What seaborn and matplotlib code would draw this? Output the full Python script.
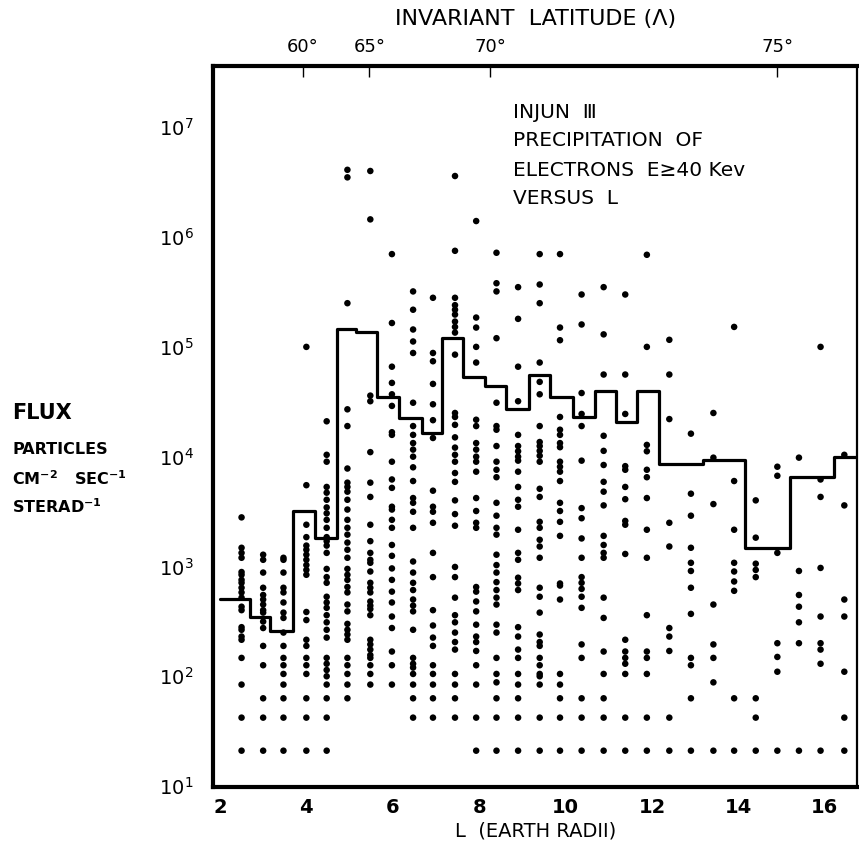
import numpy as np
import pandas as pd
import matplotlib
matplotlib.use("Agg")
import matplotlib.pyplot as plt
import seaborn as sns

sns.set_style("white")
plt.rcParams["font.family"] = ["DejaVu Sans"]
plt.rcParams["mathtext.default"] = "regular"
plt.rcParams["text.color"] = "black"
plt.rcParams["axes.labelcolor"] = "black"
plt.rcParams["xtick.color"] = "black"
plt.rcParams["ytick.color"] = "black"

# ---- data -----------------------------------------------------------------
# L position of each column of measurements
col_L = [2.5, 3.0, 3.47, 4.0, 4.47, 4.95, 5.48, 5.98, 6.47, 6.93, 7.44, 7.93,
         8.40, 8.90, 9.40, 9.87, 10.37, 10.88, 11.38, 11.88, 12.40, 12.90,
         13.42, 13.90, 14.40, 14.90, 15.40, 15.90, 16.45]

c25 = [2800, 1480, 1330, 1200, 890, 840, 755, 710, 640, 580, 520, 430, 400, 280, 265, 230, 215, 147, 84, 42, 21]
c30 = [1280, 1150, 880, 640, 550, 500, 450, 400, 380, 315, 275, 189, 126, 63, 42, 21]
c35 = [1200, 1150, 880, 640, 580, 470, 380, 340, 250, 189, 147, 126, 105, 84, 63, 42, 21]
c40 = [100000, 5500, 2400, 1850, 1550, 1420, 1280, 1150, 1030, 930, 840, 385, 325, 215, 189, 147, 126, 105, 63, 42, 21]
c45 = [21000, 10400, 9000, 5300, 4700, 4050, 3450, 3050, 2660, 2250, 1850, 1700, 1550, 1330, 950, 800, 710, 530, 470,
       420, 360, 310, 265, 225, 147, 130, 114, 100, 84, 63, 42, 21]
c50 = [4100000, 3500000, 250000, 27000, 19000, 7800, 5800, 5300, 4800, 4050, 3300, 2660, 2250, 1950, 1650, 1420, 1200,
       950, 840, 755, 650, 580, 450, 390, 300, 265, 240, 215, 147, 126, 105, 84, 63]
c55 = [4000000, 1450000, 36000, 32000, 11000, 5800, 4300, 2400, 1700, 1330, 1150, 1080, 900, 710, 640, 580, 480, 440,
       410, 360, 215, 195, 175, 156, 147, 126, 105, 84]
c60 = [700000, 165000, 66000, 47000, 37000, 29000, 16700, 15800, 9000, 6200, 5200, 3500, 3300, 2660, 2250, 1570, 1250,
       960, 755, 590, 470, 350, 275, 168, 126, 84]
c65 = [320000, 218000, 144000, 112000, 88000, 31000, 19000, 15800, 13300, 11600, 10000, 8000, 6000, 4200, 3800, 3150,
       2250, 1110, 880, 710, 610, 500, 440, 390, 265, 147, 130, 120, 105, 84, 63, 42]
c70 = [280000, 88000, 74000, 46000, 30000, 21500, 14800, 4900, 3500, 3150, 2500, 1330, 800, 400, 290, 225, 189, 126,
       105, 84, 63, 42]
c75 = [3600000, 750000, 280000, 240000, 218000, 197000, 170000, 152000, 135000, 85000, 25000, 23000, 19500, 15000,
       12100, 10400, 9000, 7100, 5900, 4000, 3000, 2350, 990, 800, 520, 360, 310, 250, 205, 175, 105, 84, 63, 42]
c80 = [1400000, 185000, 150000, 100000, 72000, 21700, 19000, 13300, 11600, 10000, 9000, 7300, 4200, 3200, 2500, 2250,
       650, 590, 480, 390, 295, 230, 205, 170, 126, 84, 42, 21]
c85 = [720000, 380000, 320000, 120000, 31000, 19000, 17600, 12500, 9000, 7600, 6500, 3800, 2900, 2250, 1950, 1280,
       1030, 880, 720, 610, 520, 450, 295, 250, 147, 105, 88, 63, 42, 21]
c90 = [350000, 180000, 66000, 32000, 15800, 12500, 11200, 10000, 9200, 7300, 5300, 4050, 3500, 2160, 1330, 1150, 790,
       700, 610, 280, 230, 175, 147, 105, 84, 63, 42, 21]
c95 = [700000, 370000, 250000, 72000, 48000, 37000, 19000, 13600, 12500, 11300, 10200, 9000, 5100, 4300, 2550, 2250,
       1750, 1520, 1200, 640, 530, 380, 240, 205, 189, 147, 126, 105, 100, 84, 42, 21]
c100 = [700000, 150000, 115000, 23000, 17600, 15800, 13300, 12200, 9000, 8100, 7300, 6000, 3800, 3200, 2550, 1900,
        700, 670, 500, 105, 84, 63, 42, 21]
c105 = [300000, 160000, 38000, 24500, 19000, 9200, 3400, 2750, 1800, 1200, 800, 710, 625, 530, 420, 195, 147, 63, 42, 21]
c110 = [350000, 130000, 56000, 15500, 11300, 8400, 5900, 4800, 3600, 1900, 1570, 1330, 1200, 520, 340, 168, 105, 63, 42, 21]
c115 = [300000, 56000, 24500, 8200, 7600, 5300, 4100, 2600, 2400, 1300, 215, 168, 147, 130, 105, 42, 21]
c120 = [690000, 100000, 12800, 11200, 7600, 6500, 4200, 2160, 1200, 360, 168, 147, 105, 42, 21]
c125 = [116000, 56000, 22000, 2500, 1520, 275, 230, 170, 42, 21]
c130 = [16200, 4600, 2900, 1480, 1080, 910, 640, 370, 147, 126, 63, 21]
c135 = [25000, 9800, 3700, 450, 195, 147, 88, 21]
c140 = [152000, 6000, 2160, 1080, 900, 730, 600, 63, 21]
c145 = [4000, 1830, 1060, 930, 800, 63, 42, 21]
c150 = [8100, 6700, 1330, 200, 150, 110, 21]
c155 = [9800, 910, 550, 430, 310, 200, 21]
c160 = [100000, 6200, 4300, 970, 350, 200, 175, 130, 21]
c165 = [10400, 3600, 500, 350, 110, 42, 21]

col_flux = [c25, c30, c35, c40, c45, c50, c55, c60, c65, c70, c75, c80, c85, c90, c95,
            c100, c105, c110, c115, c120, c125, c130, c135, c140, c145, c150, c155, c160, c165]

# step curve (histogram of upper envelope)
bin_edges = [2.0, 2.70, 3.16, 3.70, 4.21, 4.70, 5.14, 5.63, 6.14, 6.67, 7.14, 7.63, 8.14, 8.63,
             9.16, 9.65, 10.16, 10.67, 11.16, 11.65, 12.16, 13.19, 14.16, 15.19, 16.21, 16.75]
bin_flux = [510, 350, 260, 3170, 1820, 144000, 138000, 35000, 22600, 16300, 120000, 53600, 44000,
            27000, 55000, 35000, 23000, 40000, 20500, 40000, 8500, 9400, 1480, 6500, 10000]

x_ticks = [2, 4, 6, 8, 10, 12, 14, 16]
y_exps = [1, 2, 3, 4, 5, 6, 7]
lat_tick_L = [3.92, 5.46, 8.25, 14.9]
lat_labels = ["60°", "65°", "70°", "75°"]

# ---- build table -----------------------------------------------------------
rows_L, rows_F = [], []
for L, fl in zip(col_L, col_flux):
    rows_L += [L] * len(fl)
    rows_F += fl
df = pd.DataFrame({"L": rows_L, "flux": rows_F})

step_df = pd.DataFrame({"L": bin_edges, "flux": bin_flux + [bin_flux[-1]]})

# ---- figure ----------------------------------------------------------------
fig = plt.figure(figsize=(8.59, 8.49), dpi=100)
ax = fig.add_axes([0.248, 0.073, 0.750, 0.849])

sns.scatterplot(data=df, x="L", y="flux", ax=ax, color="black", s=22,
                edgecolor="none", linewidth=0, legend=False, zorder=3)
ax.plot(step_df["L"], step_df["flux"], drawstyle="steps-post", color="black", lw=2.3, zorder=4)

ax.set_yscale("log")
ax.set_xlim(1.84, 16.75)
ax.set_ylim(9.8, 3.6e7)

ax.set_xticks(x_ticks)
ax.set_xticklabels([str(v) for v in x_ticks], fontsize=14, fontweight="bold")
ax.set_yticks([10.0 ** e for e in y_exps])
ax.set_yticklabels([r"$\mathregular{10^{%d}}$" % e for e in y_exps], fontsize=14)
ax.minorticks_off()
ax.tick_params(axis="x", direction="in", length=7, width=1, pad=8)
ax.tick_params(axis="y", direction="in", length=7, width=1, pad=14)
ax.set_xlabel("L  (EARTH RADII)", fontsize=14, labelpad=3)
ax.set_ylabel("")

for side, sp in ax.spines.items():
    sp.set_visible(True)
    sp.set_color("black")
    sp.set_linewidth(3.0 if side in ("left", "bottom", "top") else 1.6)

sec = ax.secondary_xaxis("top")
sec.set_xticks(lat_tick_L)
sec.set_xticklabels(lat_labels, fontsize=13)
sec.tick_params(direction="in", length=8, width=1, pad=7)
sec.set_xlabel("INVARIANT  LATITUDE (Λ)", fontsize=16, labelpad=10)

# annotation block
for txt, yy in [("INJUN  Ⅲ", 112), ("PRECIPITATION  OF", 141),
                ("ELECTRONS  E≥40 Kev", 170), ("VERSUS  L", 198)]:
    fig.text(513 / 859, 1 - yy / 849, txt, fontsize=14.5, ha="left", va="center", color="black")

# y-axis label block
fig.text(12 / 859, 1 - 413 / 849, "FLUX", fontsize=15, fontweight="bold", ha="left", va="center")
fig.text(12 / 859, 1 - 449 / 849, "PARTICLES", fontsize=11.5, fontweight="bold", ha="left", va="center")
fig.text(12 / 859, 1 - 479 / 849, "CM$^{-2}$   SEC$^{-1}$", fontsize=11.5, fontweight="bold",
         ha="left", va="center")
fig.text(12 / 859, 1 - 507 / 849, "STERAD$^{-1}$", fontsize=11.5, fontweight="bold", ha="left", va="center")

fig.savefig("out.png", dpi=100)
